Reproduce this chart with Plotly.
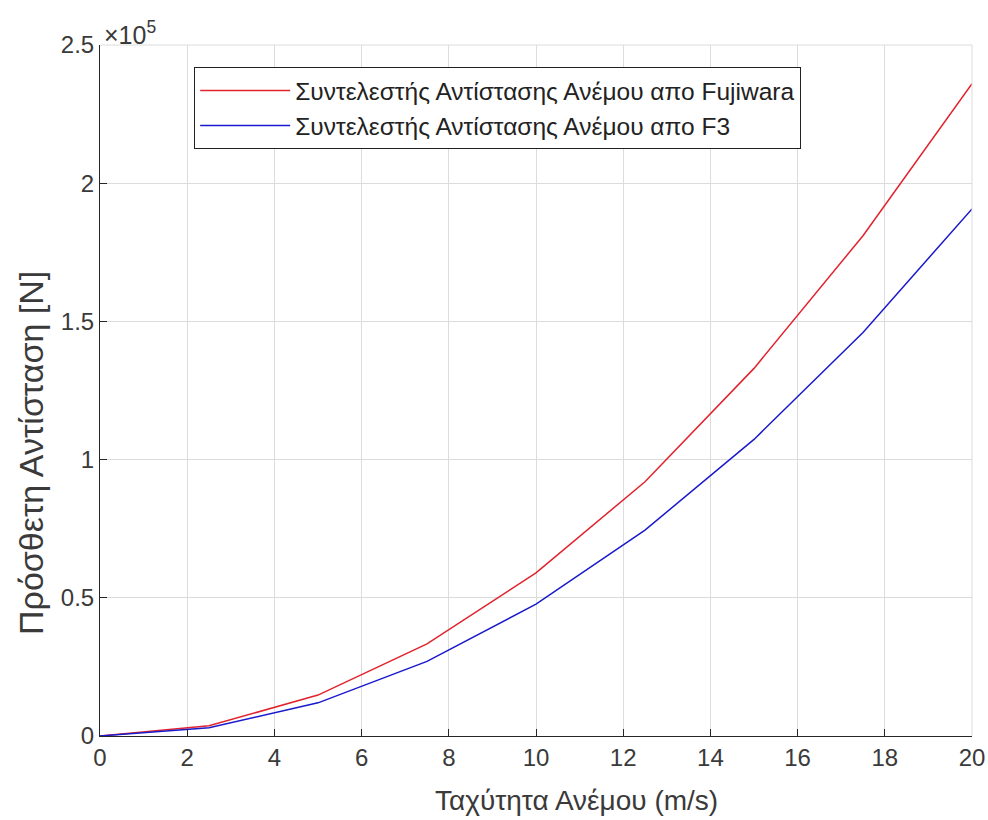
import plotly.graph_objects as go

wind_speed = [0, 2.5, 5, 7.5, 10, 12.5, 15, 17.5, 20]
resistance_fujiwara = [0, 3700, 14800, 33300, 59000, 92000, 133000, 181000, 236000]
resistance_f3 = [0, 3000, 12000, 27000, 47700, 74500, 107300, 146000, 190700]

x_ticks = [0, 2, 4, 6, 8, 10, 12, 14, 16, 18, 20]
y_tickvals = [0, 50000, 100000, 150000, 200000, 250000]
y_ticktext = ["0", "0.5", "1", "1.5", "2", "2.5"]

label_red = "Συντελεστής Αντίστασης Ανέμου απο Fujiwara"
label_blue = "Συντελεστής Αντίστασης Ανέμου απο F3"
x_title = "Ταχύτητα Ανέμου (m/s)"
y_title = "Πρόσθετη Αντίσταση [N]"

font_family = "Liberation Sans, Arial, sans-serif"
text_color = "#3a3a3a"

fig = go.Figure()
fig.add_trace(go.Scatter(x=wind_speed, y=resistance_fujiwara, mode="lines",
                         name=label_red, line=dict(color="rgb(225,35,45)", width=1.5)))
fig.add_trace(go.Scatter(x=wind_speed, y=resistance_f3, mode="lines",
                         name=label_blue, line=dict(color="rgb(25,25,205)", width=1.5)))

fig.update_layout(
    width=988, height=820,
    margin=dict(l=100, r=16, t=45, b=84, autoexpand=False),
    paper_bgcolor="white", plot_bgcolor="white",
    font=dict(family=font_family, color=text_color),
    showlegend=True,
    legend=dict(
        x=0.108, y=0.968, xanchor="left", yanchor="top",
        bgcolor="white", bordercolor="#222", borderwidth=1,
        font=dict(size=24.5, family=font_family, color="#222"),
        itemwidth=90, tracegroupgap=0,
    ),
    xaxis=dict(
        range=[0, 20], tickvals=x_ticks, ticks="inside", ticklen=7, tickcolor="#262626",
        showline=True, linecolor="#262626", linewidth=1, automargin=False,
        showgrid=True, gridcolor="#dcdcdc", gridwidth=1, zeroline=False,
        tickfont=dict(size=24, color=text_color),
    ),
    yaxis=dict(
        range=[0, 250000], tickvals=y_tickvals, ticktext=y_ticktext,
        ticks="inside", ticklen=7, tickcolor="#262626",
        showline=True, linecolor="#262626", linewidth=1, automargin=False,
        showgrid=True, gridcolor="#dcdcdc", gridwidth=1, zeroline=False,
        tickfont=dict(size=24, color=text_color),
    ),
)

# axis titles as annotations
fig.add_annotation(xref="paper", yref="paper", x=0.546, y=-0.093, xanchor="center", yanchor="middle",
                   text=x_title, showarrow=False,
                   font=dict(size=28, color=text_color, family=font_family))
fig.add_annotation(xref="paper", yref="paper", x=-0.08, y=0.41, xanchor="center", yanchor="middle",
                   text=y_title, textangle=-90, showarrow=False,
                   font=dict(size=34, color=text_color, family=font_family))

# light top and right box edges
fig.add_shape(type="line", xref="paper", yref="paper", x0=0, x1=1, y0=1, y1=1,
              line=dict(color="#dcdcdc", width=1))
fig.add_shape(type="line", xref="paper", yref="paper", x0=1, x1=1, y0=0, y1=1,
              line=dict(color="#dcdcdc", width=1))

fig.add_annotation(xref="paper", yref="paper", x=0.0, y=1.0, xanchor="left", yanchor="bottom",
                   text="×10<sup>5</sup>", showarrow=False,
                   font=dict(size=25, color=text_color, family=font_family), yshift=-6, xshift=2)

fig.write_html("out.html")
